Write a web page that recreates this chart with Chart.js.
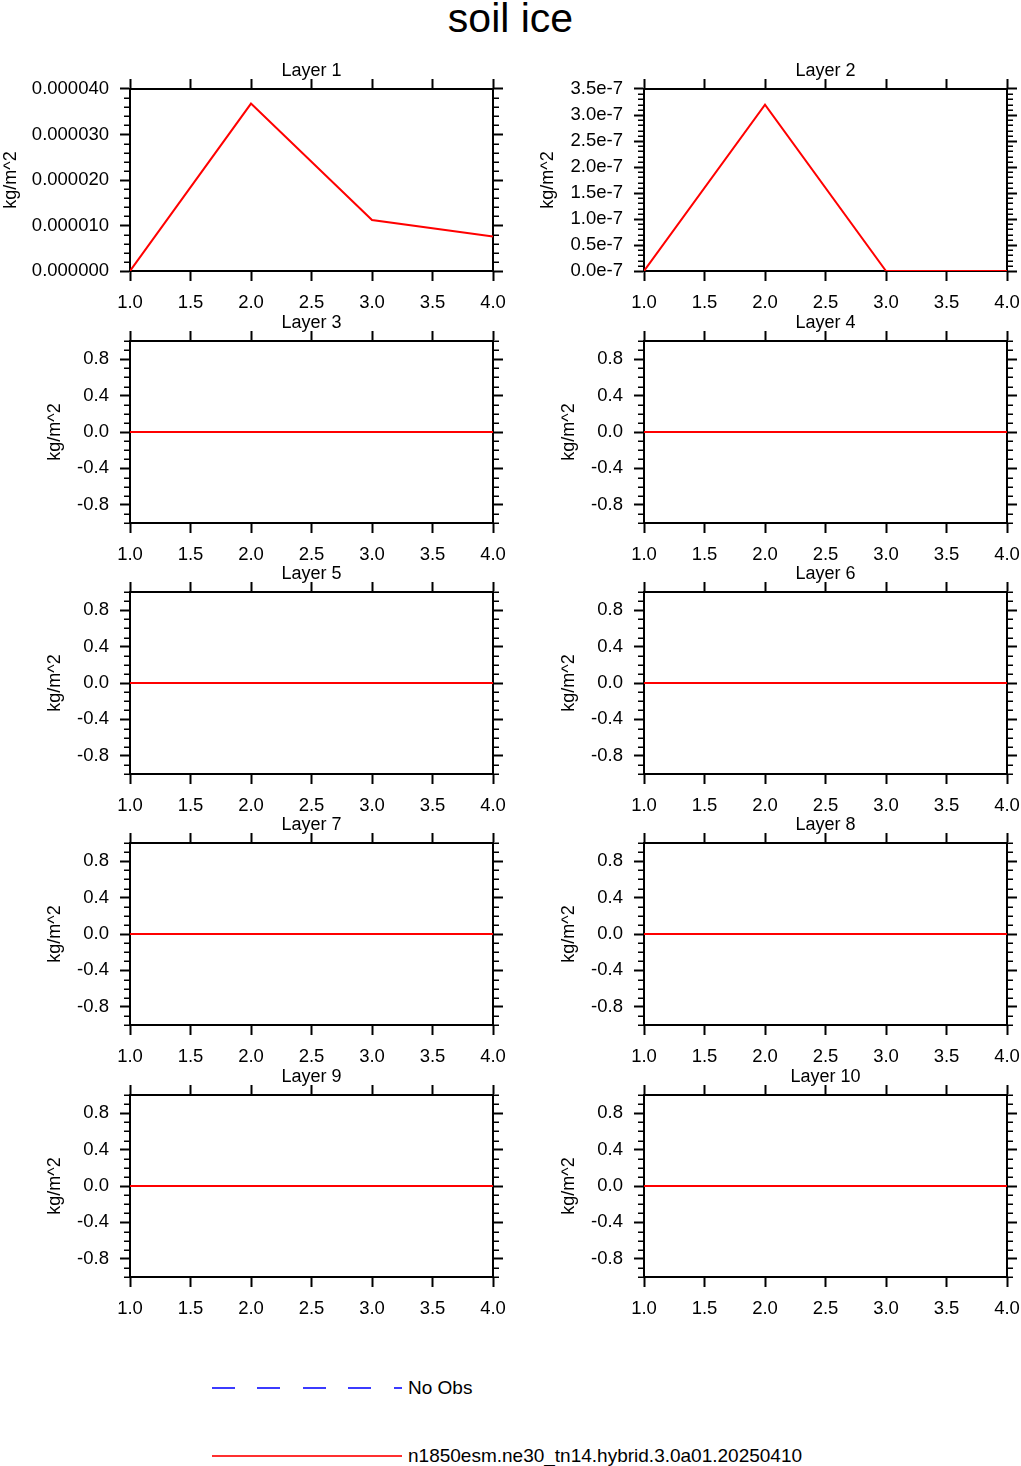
<!DOCTYPE html>
<html>
<head>
<meta charset="utf-8">
<title>soil ice</title>
<script src="https://cdn.jsdelivr.net/npm/chart.js@4.4.1/dist/chart.umd.min.js"></script>
<style>
  html, body { margin: 0; padding: 0; background: #fff; }
  body {
    width: 1021px; height: 1466px; position: relative; overflow: hidden;
    font-family: "Liberation Sans", Arial, Helvetica, sans-serif; color: #000;
  }
  #title {
    position: absolute; left: 0; top: -4px; width: 1021px;
    text-align: center; font-size: 41px; line-height: 44px;
  }
  .panel { position: absolute; }
  .legend-line { position: absolute; left: 212px; width: 190px; }
  .legend-text { position: absolute; left: 408px; font-size: 19px; line-height: 22px; white-space: nowrap; }
  #obsLine {
    top: 1387px; height: 2px;
    background: repeating-linear-gradient(to right, #3b3bff 0 23px, transparent 23px 45.5px);
  }
  #modelLine { top: 1455px; height: 2px; background: #ff3030; }
</style>
</head>
<body>
<div id="title">soil ice</div>
<div id="panels"></div>
<div class="legend-line" id="obsLine"></div>
<div class="legend-text" style="top:1377px">No Obs</div>
<div class="legend-line" id="modelLine"></div>
<div class="legend-text" style="top:1445px">n1850esm.ne30_tn14.hybrid.3.0a01.20250410</div>

<script>
'use strict';

// x values (time index) shared by every layer
const steps = [1, 2, 3, 4];
const xTicks = [1.0, 1.5, 2.0, 2.5, 3.0, 3.5, 4.0];

const layerNames = ['Layer 1', 'Layer 2', 'Layer 3', 'Layer 4', 'Layer 5',
  'Layer 6', 'Layer 7', 'Layer 8', 'Layer 9', 'Layer 10'];

// soil ice, kg/m^2
const layer1 = [0, 0.0000368, 0.0000112, 0.0000076];
const layer2 = [0, 3.2e-7, 0, 0];
const layer3 = [0, 0, 0, 0];
const layer4 = [0, 0, 0, 0];
const layer5 = [0, 0, 0, 0];
const layer6 = [0, 0, 0, 0];
const layer7 = [0, 0, 0, 0];
const layer8 = [0, 0, 0, 0];
const layer9 = [0, 0, 0, 0];
const layer10 = [0, 0, 0, 0];
const layerValues = [layer1, layer2, layer3, layer4, layer5,
  layer6, layer7, layer8, layer9, layer10];

// y axis ticks
const layer1Ticks = [0, 0.00001, 0.00002, 0.00003, 0.00004];
const layer2Ticks = [0, 0.5e-7, 1.0e-7, 1.5e-7, 2.0e-7, 2.5e-7, 3.0e-7, 3.5e-7];
const flatTicks = [-0.8, -0.4, 0.0, 0.4, 0.8];

function yAxisFor(index) {
  if (index === 0) {
    return { min: 0, max: 0.00004, ticks: layer1Ticks, minor: 0.000002,
      format: v => v.toFixed(6) };
  }
  if (index === 1) {
    return { min: 0, max: 3.5e-7, ticks: layer2Ticks, minor: 1e-8,
      format: v => (v * 1e7).toFixed(1) + 'e-7' };
  }
  return { min: -1, max: 1, ticks: flatTicks, minor: 0.1,
    format: v => (Math.abs(v) < 1e-9 ? 0 : v).toFixed(1) };
}

function minorValues(axis) {
  const out = [];
  const n = Math.round((axis.max - axis.min) / axis.minor);
  for (let i = 0; i <= n; i++) {
    const v = axis.min + i * axis.minor;
    const isMajor = axis.ticks.some(t => Math.abs(t - v) < axis.minor / 10);
    if (!isMajor) out.push(v);
  }
  return out;
}

const minorTicksPlugin = {
  id: 'minorTicks',
  afterDraw(chart, args, opts) {
    const { ctx, chartArea } = chart;
    const scale = chart.scales.y;
    ctx.save();
    ctx.strokeStyle = '#000';
    ctx.lineWidth = 1.5;
    ctx.beginPath();
    for (const v of opts.values) {
      const py = Math.round(scale.getPixelForValue(v)) + 0.25;
      ctx.moveTo(chartArea.left - 1, py);
      ctx.lineTo(chartArea.left - 6, py);
      ctx.moveTo(chartArea.right + 1, py);
      ctx.lineTo(chartArea.right + 6, py);
    }
    ctx.stroke();
    ctx.restore();
  },
};

Chart.defaults.font.family = '"Liberation Sans", Arial, Helvetica, sans-serif';
Chart.defaults.color = '#000';

const plotW = 363;
const plotH = 182;
const plotLefts = [130, 644];
const plotTops = [89, 341, 592, 843, 1095];
const canvasLefts = [0, 520];

function setTicks(values) {
  return scale => { scale.ticks = values.map(v => ({ value: v })); };
}

function edgeAxis(position, values, size) {
  const horizontal = position === 'top' || position === 'bottom';
  return {
    type: 'linear',
    position: position,
    afterBuildTicks: setTicks(values),
    afterFit: scale => {
      if (horizontal) {
        scale.height = size;
        scale.paddingLeft = 0;
        scale.paddingRight = 0;
      } else {
        scale.width = size;
        scale.paddingTop = 0;
        scale.paddingBottom = 0;
      }
    },
    grid: { drawOnChartArea: false, drawTicks: true, tickLength: 10, tickWidth: 2, tickColor: '#000' },
    border: { display: true, color: '#000', width: 2 },
  };
}

function makePanel(index) {
  const col = index % 2;
  const row = Math.floor(index / 2);
  const plotL = plotLefts[col];
  const plotT = plotTops[row];
  const canvasL = canvasLefts[col];
  const titleLeft = col === 0 ? (row === 0 ? 0 : 44) : (row === 0 ? 537 : 558);
  const axis = yAxisFor(index);

  const canvas = document.createElement('canvas');
  canvas.className = 'panel';
  canvas.width = plotL + plotW + 14 - canvasL;
  canvas.height = 40 + plotH + 45;
  canvas.style.left = canvasL + 'px';
  canvas.style.top = (plotT - 40) + 'px';
  document.getElementById('panels').appendChild(canvas);

  const x = edgeAxis('bottom', xTicks, 45);
  x.min = 1;
  x.max = 4;
  x.ticks = { display: true, padding: 11, maxRotation: 0, autoSkip: false,
    font: { size: 18.5 }, callback: v => Number(v).toFixed(1) };

  const x2 = edgeAxis('top', xTicks, 7.4);
  x2.min = 1;
  x2.max = 4;
  x2.ticks = { display: false };

  const y = edgeAxis('left', axis.ticks, plotL - titleLeft);
  y.min = axis.min;
  y.max = axis.max;
  y.ticks = { display: true, padding: 11, autoSkip: false, font: { size: 18.5 },
    callback: v => axis.format(v) };
  y.title = { display: true, text: 'kg/m^2', font: { size: 18 }, padding: 0 };

  const y2 = edgeAxis('right', axis.ticks, 14);
  y2.min = axis.min;
  y2.max = axis.max;
  y2.ticks = { display: false };

  const values = layerValues[index];
  return new Chart(canvas.getContext('2d'), {
    type: 'line',
    data: {
      datasets: [{
        data: steps.map((s, i) => ({ x: s, y: values[i] })),
        borderColor: '#ff0000',
        borderWidth: 2,
        pointRadius: 0,
        tension: 0,
        fill: false,
      }],
    },
    options: {
      responsive: false,
      animation: false,
      layout: { padding: { left: titleLeft - canvasL, top: 0, right: 0, bottom: 0 } },
      scales: { x: x, x2: x2, y: y, y2: y2 },
      plugins: {
        legend: { display: false },
        tooltip: { enabled: false },
        title: {
          display: true,
          text: layerNames[index],
          fullSize: false,
          color: '#000',
          font: { size: 18, weight: 'normal' },
          padding: { top: 11, bottom: 0 },
        },
        minorTicks: { values: minorValues(axis) },
      },
    },
    plugins: [minorTicksPlugin],
  });
}

for (let i = 0; i < layerValues.length; i++) {
  makePanel(i);
}
</script>
</body>
</html>
